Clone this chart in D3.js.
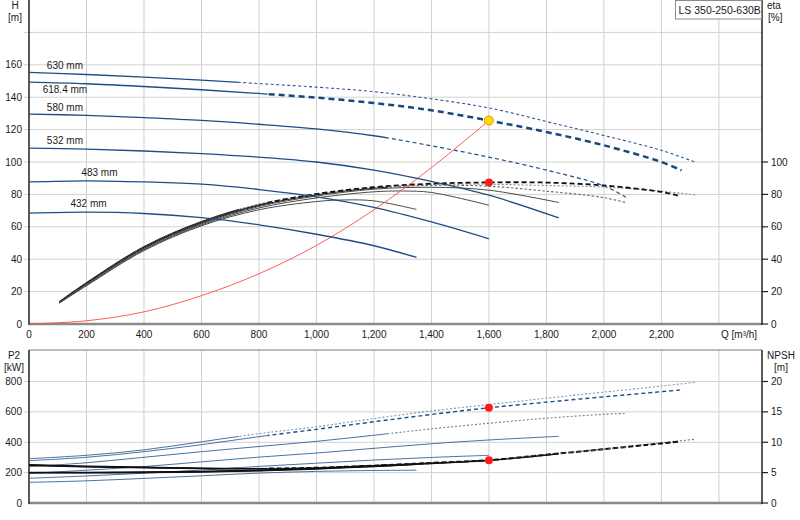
<!DOCTYPE html>
<html>
<head>
<meta charset="utf-8">
<script src="https://cdn.jsdelivr.net/npm/d3@7"></script>
<style>
  body{margin:0;background:#fff;}
  svg{display:block;font-family:"Liberation Sans",Arial,sans-serif;}
  text{fill:#1a1a1a;font-size:10px;}
</style>
</head>
<body>
<div id="chart"></div>
<script>
// ticks and labels
const qTicks = [0,200,400,600,800,1000,1200,1400,1600,1800,2000,2200];
const qGrid = [200,400,600,800,1000,1200,1400,1600,1800,2000,2200,2400];
const headTicks = [0,20,40,60,80,100,120,140,160];
const headGrid = [20,40,60,80,100,120,140,160,180];
const etaTicks = [0,20,40,60,80,100];
const p2Ticks = [0,200,400,600,800];
const npshTicks = [0,5,10,15,20];
const pumpName = 'LS 350-250-630B';

// impeller diameters, and where each curve leaves its solid range
const diameters = ['630 mm','618.4 mm','580 mm','532 mm','483 mm','432 mm'];
const limitQ = [730, 830, 1250, null, null, null];

// head [Q m3/h, H m]
const head630 = [[0,155.3],[200,154],[400,152.4],[600,150.6],[800,148.4],[1000,146.2],[1200,143.4],[1400,139],[1600,133.4],[1800,125],[2000,116.4],[2200,107.2],[2322,99.6]];
const head618 = [[0,149.3],[200,148.3],[400,146.6],[600,144.6],[800,142.3],[1000,139.7],[1200,136.4],[1400,131.9],[1600,125.6],[1800,118.5],[2000,110.3],[2200,100],[2270,94.9]];
const head580 = [[0,129.6],[200,128.8],[400,127.4],[600,125.7],[800,123.3],[1000,120.4],[1200,116.2],[1400,110],[1600,103],[1800,95],[2000,85.3],[2079,78]];
const head532 = [[0,108.6],[200,108],[400,106.8],[600,105.2],[800,103],[1000,100],[1200,95],[1400,88],[1600,79.5],[1843,65.5]];
const head483 = [[0,87.7],[200,88.4],[400,87.7],[600,86.3],[800,83],[1000,78.5],[1200,72],[1400,63],[1600,52.6]];
const head432 = [[0,68.4],[200,69],[400,68.2],[600,65.6],[800,61.2],[1000,55.4],[1200,48.3],[1348,41.1]];

// efficiency [Q, eta %]
const eta630 = [[105,13.8],[200,25.6],[400,47.8],[600,63.3],[800,74],[1000,80.4],[1200,84.2],[1400,86],[1600,86.2],[1800,85.5],[2000,84.5],[2200,82],[2322,79.5]];
const eta618 = [[105,13.6],[200,25.2],[400,47.3],[600,62.8],[800,73.6],[1000,80.2],[1200,84.5],[1400,86.6],[1600,87.4],[1800,87.3],[2000,85.5],[2200,81.5],[2264,79]];
const eta580 = [[105,13.4],[200,24.8],[400,46.8],[600,62.3],[800,73.1],[1000,79.7],[1200,83.8],[1400,85.6],[1600,85],[1800,82],[2000,78],[2079,74.8]];
const eta532 = [[105,13.2],[200,24.4],[400,46.3],[600,61.8],[800,72.5],[1000,79],[1200,83.2],[1400,84.4],[1600,82.6],[1843,75]];
const eta483 = [[105,13],[200,24],[400,45.8],[600,61.2],[800,71.6],[1000,77.8],[1200,81.6],[1300,82.1],[1400,81.2],[1600,73.3]];
const eta432 = [[105,12.8],[200,23.6],[400,45.3],[600,60.6],[800,70.5],[1000,75.6],[1100,76.6],[1200,76],[1348,70.7]];

// shaft power [Q, P2 kW]
const p2_630 = [[0,292],[200,314],[400,350],[600,403],[800,457],[1000,502],[1200,556],[1400,606],[1600,648],[1800,690],[2000,730],[2200,770],[2319,795]];
const p2_618 = [[0,279],[200,301],[400,338],[600,384],[800,437],[1000,485],[1200,535],[1400,583],[1600,627],[1800,664],[2000,699],[2200,733],[2264,744]];
const p2_580 = [[0,239],[200,265],[400,301],[600,338],[800,372],[1000,406],[1200,446],[1400,488],[1600,525],[1800,558],[2000,584],[2079,590]];
const p2_532 = [[0,195],[200,216],[400,240],[600,271],[800,302],[1000,329],[1200,360],[1400,390],[1600,415],[1843,439]];
const p2_483 = [[0,163],[200,178],[400,196],[600,217],[800,241],[1000,262],[1200,283],[1400,300],[1600,314]];
const p2_432 = [[0,136],[200,146],[400,162],[600,179],[800,197],[1000,208],[1200,214],[1348,216]];

// npsh [Q, m]
const npsh630 = [[0,6.3],[200,6.05],[400,5.9],[600,5.75],[800,5.7],[1000,5.8],[1200,6.15],[1400,6.6],[1600,7.05],[1800,8],[2000,8.9],[2200,9.9],[2319,10.5]];
const npsh618 = [[0,6.25],[200,6],[400,5.85],[600,5.7],[800,5.65],[1000,5.8],[1200,6.15],[1400,6.6],[1600,7.05],[1800,7.95],[2000,8.85],[2200,9.8],[2264,10.1]];
const npsh580 = [[0,6.2],[200,5.95],[400,5.8],[600,5.65],[800,5.62],[1000,5.78],[1200,6.15],[1400,6.6],[1600,7.05],[1800,7.95],[2000,8.85],[2079,9.2]];
const npsh532 = [[0,5.05],[200,5.05],[400,5.1],[600,5.2],[800,5.4],[1000,5.7],[1200,6.1],[1400,6.55],[1600,7],[1843,8.1]];
const npsh483 = [[0,5],[200,5],[400,5.05],[600,5.15],[800,5.35],[1000,5.65],[1200,6.05],[1400,6.5],[1600,7]];
const npsh432 = [[0,4.95],[200,4.95],[400,5],[600,5.1],[800,5.3],[1000,5.6],[1200,6],[1348,6.35]];

// system curve [Q, H]
const systemCurve = [[0,0],[200,2],[400,7.5],[600,17.5],[800,31],[1000,48.5],[1200,70.5],[1400,96.5],[1600,125.6]];

// duty point
const dutyQ = 1600, dutyH = 125.6, dutyEta = 87.4, dutyP2 = 627, dutyNpsh = 7.05;

const curves = diameters.map((label, i) => ({
    label,
    limit: limitQ[i],
    head: [head630,head618,head580,head532,head483,head432][i],
    eta: [eta630,eta618,eta580,eta532,eta483,eta432][i],
    p2: [p2_630,p2_618,p2_580,p2_532,p2_483,p2_432][i],
    npsh: [npsh630,npsh618,npsh580,npsh532,npsh483,npsh432][i]
}));

// how the part beyond the limit is stroked, per diameter
const beyond = ['dotted','bold','dashed',null,null,null];

class PumpChart{

    width; height;
    svg; defs;
    x; yH; yEta; yP2; yNpsh;

    constructor(container, width, height){
        this.width = width;
        this.height = height;

        this.svg = d3.select(container).append('svg')
            .attr('width', width)
            .attr('height', height);
        this.defs = this.svg.append('defs');

        // scales, the two panels share Q
        this.x = d3.scaleLinear().domain([0,2550]).range([29,762]);
        this.yH = d3.scaleLinear().domain([0,200]).range([324,0]);
        this.yEta = d3.scaleLinear().domain([0,200]).range([324,0]);
        this.yP2 = d3.scaleLinear().domain([0,800]).range([503,381.5]);
        this.yNpsh = d3.scaleLinear().domain([0,20]).range([503,381.5]);

        this.#setClips();
    }

    // clip rects split every curve at its limit
    #setClips(){
        curves.forEach((c,i)=>{
            if(c.limit == null) return;
            const bx = this.x(c.limit);
            this.defs.append('clipPath').attr('id','before'+i)
                .append('rect').attr('x',0).attr('y',0).attr('width',bx).attr('height',this.height);
            this.defs.append('clipPath').attr('id','after'+i)
                .append('rect').attr('x',bx).attr('y',0).attr('width',this.width-bx).attr('height',this.height);
        });
    }

    #grid(top, bottom, yScale, yValues){
        const g = this.svg.append('g').attr('stroke','#d0d0d0').attr('stroke-width',1);
        g.selectAll('line.v').data(qGrid).join('line')
            .attr('x1',d=>this.x(d)).attr('x2',d=>this.x(d))
            .attr('y1',top).attr('y2',bottom);
        g.selectAll('line.h').data(yValues).join('line')
            .attr('x1',24).attr('x2',this.x.range()[1])
            .attr('y1',d=>yScale(d)).attr('y2',d=>yScale(d));
    }

    #frame(top, bottom){
        const [x0,x1] = this.x.range();
        const g = this.svg.append('g');
        g.append('line').attr('x1',x0).attr('x2',x1).attr('y1',bottom).attr('y2',bottom)
            .attr('stroke','#8a8a8a').attr('stroke-width',2.5);
        g.append('line').attr('x1',x0).attr('x2',x0).attr('y1',top).attr('y2',bottom+1)
            .attr('stroke','#222').attr('stroke-width',1.5);
        g.append('line').attr('x1',x1).attr('x2',x1).attr('y1',top).attr('y2',bottom+1)
            .attr('stroke','#222').attr('stroke-width',1.5);
    }

    #leftLabels(values, yScale, fmt){
        this.svg.append('g').selectAll('text').data(values).join('text')
            .attr('x',22).attr('y',d=>yScale(d)).attr('dy','0.35em')
            .attr('text-anchor','end').text(fmt);
    }

    #rightLabels(values, yScale){
        const x1 = this.x.range()[1];
        const g = this.svg.append('g');
        g.selectAll('line').data(values).join('line')
            .attr('x1',x1).attr('x2',x1+6).attr('y1',d=>yScale(d)).attr('y2',d=>yScale(d))
            .attr('stroke','#222').attr('stroke-width',1.2);
        g.selectAll('text').data(values).join('text')
            .attr('x',x1+9).attr('y',d=>yScale(d)).attr('dy','0.35em').text(d=>d);
    }

    // one curve, solid up to its limit, styled after it
    #series(g, data, line, i, base, styles){
        const path = g.append('path').datum(data).attr('d',line).attr('fill','none')
            .attr('stroke',base.color).attr('stroke-width',base.width)
            .attr('stroke-opacity',base.opacity || 1);
        if(curves[i].limit == null) return;
        path.attr('clip-path',`url(#before${i})`);
        const s = styles[beyond[i]];
        g.append('path').datum(data).attr('d',line).attr('fill','none')
            .attr('stroke',s.color).attr('stroke-width',s.width)
            .attr('stroke-dasharray',s.dash).attr('stroke-opacity',s.opacity || 1)
            .attr('clip-path',`url(#after${i})`);
    }

    #topPanel(){
        this.#grid(0, 324, this.yH, headGrid);
        this.#frame(0, 324);

        const g = this.svg.append('g');
        const smooth = d3.curveCatmullRom.alpha(0.5);
        const lineH = d3.line().x(d=>this.x(d[0])).y(d=>this.yH(d[1])).curve(smooth);
        const lineEta = d3.line().x(d=>this.x(d[0])).y(d=>this.yEta(d[1])).curve(smooth);

        // efficiency curves under the head curves
        curves.forEach((c,i)=>{
            const base = i < 3 ? {color:'#1a1a1a',width:1} : {color:'#4a4a4a',width:1};
            this.#series(g, c.eta, lineEta, i, base, {
                dotted:{color:'#8a8a8a',width:1.1,dash:'2,2'},
                bold:{color:'#111',width:1.8,dash:'5,3'},
                dashed:{color:'#666',width:1.1,dash:'2.5,2'}
            });
        });

        // system curve to the duty point
        g.append('path').datum(systemCurve).attr('d',lineH).attr('fill','none')
            .attr('stroke','#ff4a4a').attr('stroke-width',0.9);

        curves.forEach((c,i)=>{
            this.#series(g, c.head, lineH, i, {color:'#1d4d86',width:1.3}, {
                dotted:{color:'#2a5890',width:1.1,dash:'3,2.5'},
                bold:{color:'#17487f',width:2.5,dash:'6,4'},
                dashed:{color:'#1d4d86',width:1.2,dash:'4,3'}
            });
        });

        // diameter labels next to the start of each curve
        const labelQ = [125,125,125,125,245,207];
        const labelDy = [-3.5,10.5,-3,-4.5,-6,-6];
        g.selectAll('text.dia').data(curves).join('text')
            .attr('class','dia')
            .attr('x',(d,i)=>this.x(labelQ[i]))
            .attr('y',(d,i)=>this.yH(d.head[0][1])+labelDy[i])
            .attr('text-anchor','middle')
            .text(d=>d.label);

        // duty point markers
        g.append('circle').attr('cx',this.x(dutyQ)).attr('cy',this.yH(dutyH)).attr('r',4.5)
            .attr('fill','#ffdd00').attr('stroke','#f08a00').attr('stroke-width',1);
        g.append('circle').attr('cx',this.x(dutyQ)).attr('cy',this.yEta(dutyEta)).attr('r',4)
            .attr('fill','#ff1a1a');

        // axis labels
        this.#leftLabels(headTicks, this.yH, d=>d);
        this.#rightLabels(etaTicks, this.yEta);
        this.svg.append('g').selectAll('text').data(qTicks).join('text')
            .attr('x',d=>this.x(d)).attr('y',337.5).attr('text-anchor','middle')
            .text(d3.format(','));

        this.svg.append('text').attr('x',15).attr('y',9).attr('text-anchor','middle').text('H');
        this.svg.append('text').attr('x',15).attr('y',21).attr('text-anchor','middle').text('[m]');
        this.svg.append('text').attr('x',767).attr('y',9).text('eta');
        this.svg.append('text').attr('x',768).attr('y',21).text('[%]');
        this.svg.append('text').attr('x',721).attr('y',337.5).text('Q [m³/h]');

        // pump name box
        this.svg.append('rect').attr('x',675.5).attr('y',0.5).attr('width',86).attr('height',18.5)
            .attr('fill','#fff').attr('stroke','#8a8a8a');
        this.svg.append('text').attr('x',678.5).attr('y',13.5).style('font-size','10.5px').text(pumpName);
    }

    #bottomPanel(){
        this.#grid(350, 503, this.yP2, p2Ticks.slice(1));
        const [x0,x1] = this.x.range();
        this.svg.append('line').attr('x1',x0).attr('x2',x1).attr('y1',350).attr('y2',350)
            .attr('stroke','#7a7a7a').attr('stroke-width',1.2);
        this.#frame(350, 503);

        const g = this.svg.append('g');
        const smooth = d3.curveCatmullRom.alpha(0.5);
        const lineP2 = d3.line().x(d=>this.x(d[0])).y(d=>this.yP2(d[1])).curve(smooth);
        const lineNpsh = d3.line().x(d=>this.x(d[0])).y(d=>this.yNpsh(d[1])).curve(smooth);

        curves.forEach((c,i)=>{
            this.#series(g, c.p2, lineP2, i, {color:'#2b5a90',width:1,opacity:0.85}, {
                dotted:{color:'#8595b3',width:1.1,dash:'2,2'},
                bold:{color:'#1d4d86',width:1.4,dash:'4,3'},
                dashed:{color:'#6c80a6',width:1.1,dash:'2,2'}
            });
        });

        curves.forEach((c,i)=>{
            this.#series(g, c.npsh, lineNpsh, i, {color:'#111',width:1.3}, {
                dotted:{color:'#777',width:1.1,dash:'2,2'},
                bold:{color:'#111',width:2,dash:'5,2.5'},
                dashed:{color:'#555',width:1.1,dash:'2,2'}
            });
        });

        g.append('circle').attr('cx',this.x(dutyQ)).attr('cy',this.yP2(dutyP2)).attr('r',4)
            .attr('fill','#ff1a1a');
        g.append('circle').attr('cx',this.x(dutyQ)).attr('cy',this.yNpsh(dutyNpsh)).attr('r',4)
            .attr('fill','#ff1a1a');

        this.#leftLabels(p2Ticks, this.yP2, d=>d);
        this.#rightLabels(npshTicks, this.yNpsh);

        this.svg.append('text').attr('x',14).attr('y',359).attr('text-anchor','middle').text('P2');
        this.svg.append('text').attr('x',14).attr('y',371).attr('text-anchor','middle').text('[kW]');
        this.svg.append('text').attr('x',781).attr('y',359).attr('text-anchor','middle').text('NPSH');
        this.svg.append('text').attr('x',781).attr('y',371).attr('text-anchor','middle').text('[m]');
    }

    render(){
        this.#topPanel();
        this.#bottomPanel();
        return this;
    }
}

new PumpChart('#chart', 800, 520).render();
</script>
</body>
</html>
